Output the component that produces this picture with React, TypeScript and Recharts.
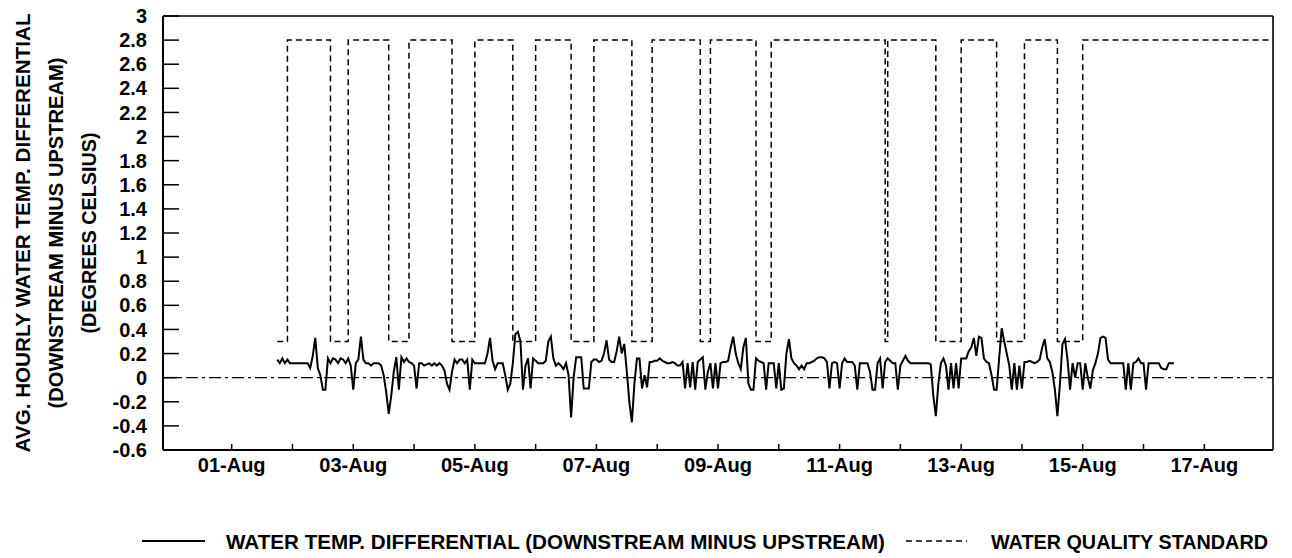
import React from 'react';
import { LineChart, Line, XAxis, YAxis, ReferenceLine } from 'recharts';

// X axis: day of August (1 = 01-Aug 00:00)
const monthLabel = 'Aug';
const xTickDays = [1, 2, 3, 4, 5, 6, 7, 8, 9, 10, 11, 12, 13, 14, 15, 16, 17];
const xDomain = [-0.13, 18.13];

// Y axis ticks
const yTicks = [-0.6, -0.4, -0.2, 0, 0.2, 0.4, 0.6, 0.8, 1, 1.2, 1.4, 1.6, 1.8, 2, 2.2, 2.4, 2.6, 2.8, 3];
const yDomain = [-0.6, 3];

// Hourly water temperature differential, starting at hour 18 of 01-Aug
const diffStartHour = 18;
const diffValues = [
  0.15, 0.12, 0.16, 0.12, 0.15, 0.12, 0.12, 0.12, 0.12, 0.12,
  0.12, 0.12, 0.12, 0.08, 0.18, 0.33, 0.08, 0.02, -0.1, -0.1,
  0.16, 0.12, 0.16, 0.15, 0.12, 0.16, 0.15, 0.12, 0.16, 0.1,
  -0.1, 0.12, 0.15, 0.34, 0.15, 0.12, 0.12, 0.1, 0.12, 0.12,
  0.12, 0.1, 0.02, -0.12, -0.3, -0.15, 0.05, 0.17, -0.1, 0.17,
  0.13, 0.16, 0.13, 0.12, 0.1, -0.09, 0.12, 0.12, 0.1, 0.11,
  0.12, 0.1, 0.12, 0.1, 0.12, 0.1, 0.06, -0.05, -0.1, 0.05,
  0.15, 0.12, 0.15, 0.15, 0.12, 0.15, -0.1, 0.15, 0.12, 0.12,
  0.12, 0.12, 0.12, 0.2, 0.33, 0.14, 0.07, 0.12, 0.12, 0.12,
  0.02, -0.1, -0.05, 0.12, 0.36, 0.38, 0.3, -0.1, 0.1, 0.16,
  -0.09, 0.16, 0.14, 0.12, 0.12, 0.12, 0.14, 0.3, 0.34, 0.16,
  0.1, 0.12, 0.1, 0.07, 0.12, 0.02, -0.33, 0.0, 0.17, 0.17,
  0.17, -0.09, -0.09, -0.09, 0.13, 0.15, 0.15, 0.13, 0.14, 0.2,
  0.31, 0.15, 0.13, 0.13, 0.22, 0.34, 0.2, 0.28, 0.05, -0.2,
  -0.37, -0.05, 0.16, 0.16, -0.09, 0.02, -0.08, 0.13, 0.13, 0.14,
  0.14, 0.16, 0.14, 0.13, 0.12, 0.12, 0.13, 0.12, 0.1, 0.1,
  0.13, -0.09, 0.12, -0.08, 0.13, -0.1, 0.13, 0.15, 0.17, -0.1,
  0.05, 0.12, -0.09, 0.12, -0.09, 0.12, 0.13, 0.13, 0.14, 0.25,
  0.34, 0.2, 0.12, 0.07, 0.25, 0.33, -0.05, -0.1, -0.1, 0.16,
  0.14, 0.13, 0.12, -0.1, 0.12, 0.12, 0.12, -0.09, 0.12, -0.1,
  -0.09, 0.2, 0.32, 0.16, 0.12, 0.1, 0.07, 0.1, 0.07, 0.12,
  0.12, 0.13, 0.14, 0.16, 0.17, 0.17, 0.16, 0.13, -0.09, 0.12,
  0.13, 0.12, -0.09, 0.12, 0.16, 0.13, 0.13, 0.13, 0.1, -0.1,
  0.12, 0.12, 0.12, 0.12, 0.05, -0.1, -0.1, 0.12, 0.16, -0.09,
  0.13, 0.16, 0.14, 0.12, 0.12, -0.1, 0.1, 0.14, 0.18, 0.14,
  0.12, 0.12, 0.12, 0.12, 0.12, 0.12, 0.12, 0.12, 0.11, -0.15,
  -0.32, -0.05, 0.12, 0.16, 0.1, -0.1, 0.12, -0.09, 0.12, -0.09,
  0.16, 0.16, 0.16, 0.22, 0.25, 0.33, 0.18, 0.34, 0.33, 0.16,
  0.13, 0.12, 0.02, -0.1, -0.1, 0.16, 0.41, 0.3, 0.2, 0.1,
  -0.1, 0.12, -0.1, 0.1, -0.09, 0.13, 0.13, 0.14, 0.13, 0.12,
  0.13, 0.15, 0.25, 0.32, 0.16, 0.13, 0.05, -0.1, -0.32, -0.05,
  0.28, 0.32, 0.15, -0.1, 0.12, 0.0, 0.12, 0.12, -0.1, 0.12,
  0.0, -0.09, 0.06, 0.12, 0.2, 0.33, 0.34, 0.33, 0.15, 0.12,
  0.12, 0.12, 0.12, 0.12, 0.12, -0.1, 0.12, -0.1, 0.12, 0.13,
  0.16, 0.12, 0.12, -0.1, 0.12, 0.12, 0.12, 0.12, 0.12, 0.08,
  0.07, 0.07, 0.12, 0.12, 0.12,
];

// Water quality standard (step), hours since 01-Aug 00:00
const standardHours = [18, 22, 39, 46, 62, 70, 87, 96, 111, 120, 134, 143, 158, 166, 185, 189, 207, 213, 258, 259, 278, 288, 302, 313, 326, 336, 410];
const standardValues = [0.3, 2.8, 0.3, 2.8, 0.3, 2.8, 0.3, 2.8, 0.3, 2.8, 0.3, 2.8, 0.3, 2.8, 0.3, 2.8, 0.3, 2.8, 0.3, 2.8, 0.3, 2.8, 0.3, 2.8, 0.3, 2.8, 2.8];

const yTitleLines = [
  'AVG. HOURLY WATER TEMP. DIFFERENTIAL',
  '(DOWNSTREAM MINUS UPSTREAM)',
  '(DEGREES CELSIUS)',
];
const legendDiffLabel = 'WATER TEMP. DIFFERENTIAL (DOWNSTREAM MINUS UPSTREAM)';
const legendStdLabel = 'WATER QUALITY STANDARD';

const diffData = diffValues.map((v, i) => ({ t: 1 + (diffStartHour + i) / 24, diff: v }));
const stdData = standardHours.map((h, i) => ({ t: 1 + h / 24, std: standardValues[i] }));

const FONT = '"Liberation Sans", Arial, Helvetica, sans-serif';
const tickStyle = { fontSize: 20, fontWeight: 'bold', fill: '#000', fontFamily: FONT };

const fmtX = (d: number) => (Math.round(d) % 2 === 1 ? `${String(Math.round(d)).padStart(2, '0')}-${monthLabel}` : '');
const fmtY = (v: number) => String(Number(v.toFixed(1)));

const titleX = [30, 63, 96];
const titleLen = [439, 351, 201];

export default function App() {
  return (
    <div style={{ position: 'absolute', left: 0, top: 0, width: 1292, height: 558, background: '#fff' }}>
      <LineChart width={1292} height={558} margin={{ top: 15, right: 18, left: 113, bottom: 68 }}>
        <XAxis
          dataKey="t"
          type="number"
          domain={xDomain}
          ticks={xTickDays}
          interval={0}
          tickFormatter={fmtX}
          tickSize={-6}
          tickMargin={14}
          height={40}
          allowDataOverflow
          axisLine={{ stroke: '#000', strokeWidth: 2 }}
          tickLine={{ stroke: '#000', strokeWidth: 1.5 }}
          tick={tickStyle}
        />
        <XAxis
          xAxisId="top"
          orientation="top"
          type="number"
          domain={xDomain}
          tick={false}
          tickLine={false}
          height={1}
          axisLine={{ stroke: '#000', strokeWidth: 1.6 }}
        />
        <YAxis
          type="number"
          domain={yDomain}
          ticks={yTicks}
          interval={0}
          tickFormatter={fmtY}
          tickSize={-16}
          tickMargin={32}
          width={50}
          allowDataOverflow
          axisLine={{ stroke: '#000', strokeWidth: 2 }}
          tickLine={{ stroke: '#000', strokeWidth: 1.5 }}
          tick={tickStyle}
        />
        <YAxis
          yAxisId="right"
          orientation="right"
          type="number"
          domain={yDomain}
          tick={false}
          tickLine={false}
          width={1}
          axisLine={{ stroke: '#000', strokeWidth: 1.6 }}
        />
        <ReferenceLine y={0} stroke="#000" strokeWidth={1.2} strokeDasharray="12 4 3 4" />
        <Line
          data={stdData}
          dataKey="std"
          type="stepAfter"
          stroke="#000"
          strokeWidth={1.5}
          strokeDasharray="6 4"
          dot={false}
          activeDot={false}
          isAnimationActive={false}
        />
        <Line
          data={diffData}
          dataKey="diff"
          type="linear"
          stroke="#000"
          strokeWidth={2}
          dot={false}
          activeDot={false}
          isAnimationActive={false}
        />
      </LineChart>
      <svg
        width={1292}
        height={558}
        style={{ position: 'absolute', left: 0, top: 0, pointerEvents: 'none' }}
        fontFamily={FONT}
        fontWeight="bold"
        fill="#000"
      >
        {yTitleLines.map((line, i) => {
          const bx = titleX[i];
          return (
            <text
              key={i}
              x={bx}
              y={233}
              fontSize={20}
              textAnchor="middle"
              textLength={titleLen[i]}
              lengthAdjust="spacingAndGlyphs"
              transform={`rotate(-90 ${bx} 233)`}
            >
              {line}
            </text>
          );
        })}
        <line x1={142} x2={205} y1={541} y2={541} stroke="#000" strokeWidth={1.8} />
        <text x={226} y={549} fontSize={20} textLength={659} lengthAdjust="spacingAndGlyphs">{legendDiffLabel}</text>
        <line x1={906} x2={967} y1={541} y2={541} stroke="#000" strokeWidth={1.5} strokeDasharray="6 4" />
        <text x={991} y={549} fontSize={20} textLength={277} lengthAdjust="spacingAndGlyphs">{legendStdLabel}</text>
      </svg>
    </div>
  );
}
